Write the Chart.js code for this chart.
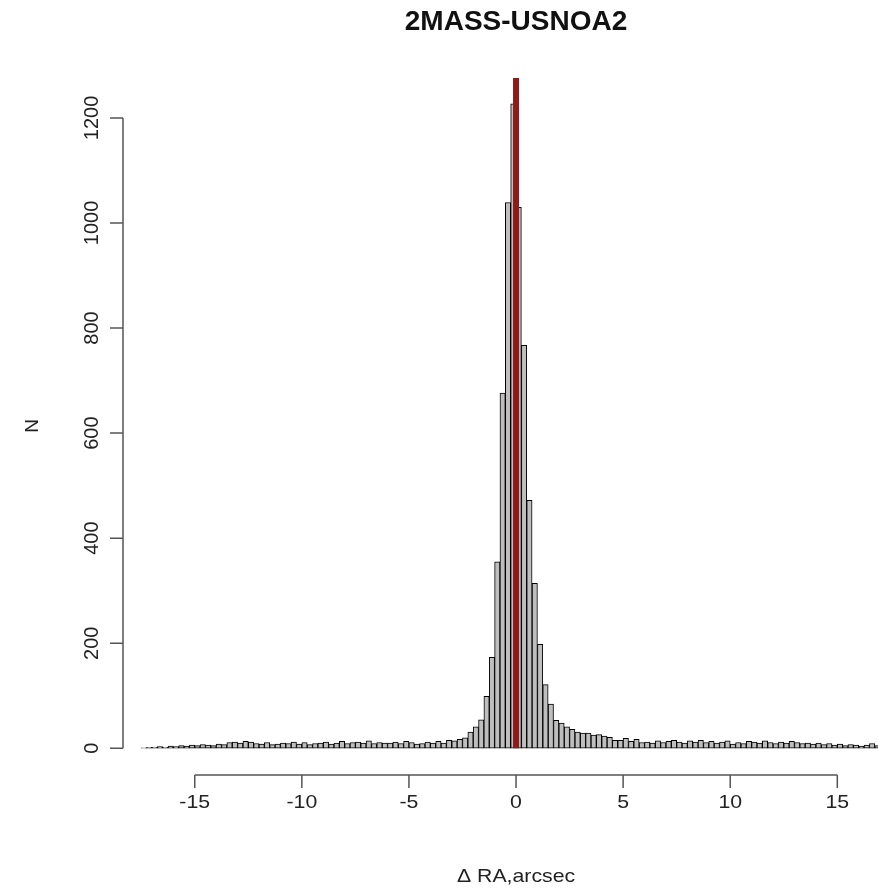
<!DOCTYPE html>
<html>
<head>
<meta charset="utf-8">
<title>2MASS-USNOA2</title>
<script src="https://cdn.jsdelivr.net/npm/chart.js@4.4.1/dist/chart.umd.min.js"></script>
<style>
  html, body { margin: 0; padding: 0; background: #ffffff; overflow: hidden; }
  canvas { display: block; }
</style>
</head>
<body>
<canvas id="histChart" width="878" height="893"></canvas>
<script>
// Data
const binStart = -17.5;
const binWidth = 0.25;
const leftTail = [1, 2, 2, 3, 2, 4, 3, 5, 4, 6, 5, 7, 6, 5, 8, 7, 11, 12, 10, 13, 12, 9, 8, 11,
  7, 8, 10, 9, 12, 8, 11, 7, 9, 10, 12, 8, 10, 13, 9, 11, 12, 10, 14, 9, 11, 10,
  10, 12, 9, 13, 11, 8, 9, 12, 10, 13, 10, 15, 14, 17];
const core = [20, 31, 41, 54, 99, 173, 355, 676, 1039, 1227, 1030, 767, 472, 314, 198, 121, 84, 53];
const rightTail = [48, 41, 36, 31, 29, 29, 25, 26, 23, 21, 15, 15, 19, 13, 17, 11,
  12, 10, 14, 11, 13, 15, 12, 10, 14, 12, 15, 11, 13, 10, 12, 14, 8, 11, 9, 13,
  12, 10, 14, 11, 9, 12, 10, 13, 11, 9, 10, 8, 10, 7, 9, 6, 8, 5, 7, 6, 4, 6, 9, 5, 4, 3];
const counts = [...leftTail, ...core, ...rightTail];
const xTicks = [-15, -10, -5, 0, 5, 10, 15];
const yTicks = [0, 200, 400, 600, 800, 1000, 1200];
const markerX = 0;

const chartTitle = '2MASS-USNOA2';
const xTitle = '\u0394 RA,arcsec';
const yTitle = 'N';

const histData = counts.map((n, i) => ({ x: binStart + binWidth * (i + 0.5), y: n }));

// horizontal text in the picture is a bit wider than tall
const wideText = (ctx, text, px, py, sx) => {
  ctx.save();
  ctx.translate(px, py);
  ctx.scale(sx, 1);
  ctx.fillText(text, 0, 0);
  ctx.restore();
};

// R-style axes, title and the red marker line
const rStyle = {
  id: 'rStyle',
  afterDatasetsDraw: (chart) => {
    const { ctx, chartArea, scales: { x, y } } = chart;
    ctx.save();
    ctx.strokeStyle = '#8e1a1a';
    ctx.lineWidth = 6;
    ctx.beginPath();
    ctx.moveTo(x.getPixelForValue(markerX), y.getPixelForValue(0));
    ctx.lineTo(x.getPixelForValue(markerX), chartArea.top);
    ctx.stroke();
    ctx.restore();
  },
  afterDraw: (chart) => {
    const { ctx, chartArea, scales: { x, y } } = chart;
    const font = '19px "Liberation Sans", Arial, sans-serif';
    const axisY = chartArea.bottom + 1;
    const axisX = chartArea.left;
    ctx.save();
    ctx.strokeStyle = '#555555';
    ctx.fillStyle = '#222222';
    ctx.lineWidth = 1.5;

    // x axis
    ctx.beginPath();
    ctx.moveTo(x.getPixelForValue(xTicks[0]), axisY);
    ctx.lineTo(x.getPixelForValue(xTicks[xTicks.length - 1]), axisY);
    xTicks.forEach(t => {
      ctx.moveTo(x.getPixelForValue(t), axisY);
      ctx.lineTo(x.getPixelForValue(t), axisY + 13);
    });
    ctx.stroke();
    ctx.font = font;
    ctx.textAlign = 'center';
    ctx.textBaseline = 'middle';
    xTicks.forEach(t => wideText(ctx, String(t), x.getPixelForValue(t), axisY + 28, 1.12));

    // y axis
    ctx.beginPath();
    ctx.moveTo(axisX, y.getPixelForValue(yTicks[0]));
    ctx.lineTo(axisX, y.getPixelForValue(yTicks[yTicks.length - 1]));
    yTicks.forEach(t => {
      ctx.moveTo(axisX, y.getPixelForValue(t));
      ctx.lineTo(axisX - 13, y.getPixelForValue(t));
    });
    ctx.stroke();
    ctx.font = '20px "Liberation Sans", Arial, sans-serif';
    yTicks.forEach(t => {
      ctx.save();
      ctx.translate(axisX - 31, y.getPixelForValue(t));
      ctx.rotate(-Math.PI / 2);
      ctx.fillText(String(t), 0, 0);
      ctx.restore();
    });

    // titles
    ctx.font = font;
    wideText(ctx, xTitle, x.getPixelForValue(0), 877, 1.12);
    ctx.save();
    ctx.translate(33, (chartArea.top + chartArea.bottom) / 2);
    ctx.rotate(-Math.PI / 2);
    ctx.fillText(yTitle, 0, 0);
    ctx.restore();
    ctx.fillStyle = '#111111';
    ctx.font = 'bold 28px "Liberation Sans", Arial, sans-serif';
    ctx.fillText(chartTitle, x.getPixelForValue(0), 22);
    ctx.restore();
  }
};

const histChart = new Chart(document.getElementById('histChart').getContext('2d'), {
  type: 'bar',
  data: {
    datasets: [{
      label: 'N',
      data: histData,
      backgroundColor: '#bebebe',
      borderColor: '#000000',
      borderWidth: 1,
      borderSkipped: false,
      barPercentage: 1,
      categoryPercentage: 1,
      grouped: false
    }]
  },
  options: {
    responsive: false,
    animation: false,
    devicePixelRatio: 1,
    layout: {
      padding: { left: 123, right: 0, top: 78, bottom: 119 }
    },
    plugins: {
      legend: { display: false },
      tooltip: { enabled: false }
    },
    scales: {
      x: { type: 'linear', min: -18.35, max: 16.9, offset: false, display: false },
      y: { min: -49, max: 1276, display: false }
    }
  },
  plugins: [rStyle]
});
</script>
</body>
</html>
